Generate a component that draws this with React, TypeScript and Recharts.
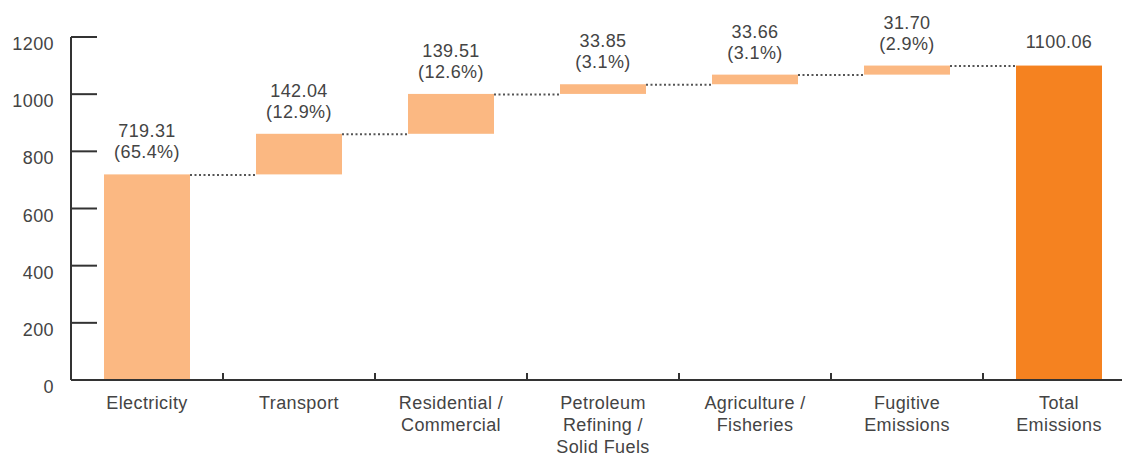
import React from "react";
import { BarChart, Bar, XAxis, YAxis, Cell } from "recharts";

const categories = [
  "Electricity",
  "Transport",
  "Residential / Commercial",
  "Petroleum Refining / Solid Fuels",
  "Agriculture / Fisheries",
  "Fugitive Emissions",
  "Total Emissions",
];
const tickLines = [
  ["Electricity"],
  ["Transport"],
  ["Residential /", "Commercial"],
  ["Petroleum", "Refining /", "Solid Fuels"],
  ["Agriculture /", "Fisheries"],
  ["Fugitive", "Emissions"],
  ["Total", "Emissions"],
];
const values = [719.31, 142.04, 139.51, 33.85, 33.66, 31.7, 1100.06];
const valueLabels = ["719.31", "142.04", "139.51", "33.85", "33.66", "31.70", "1100.06"];
const shareLabels = ["(65.4%)", "(12.9%)", "(12.6%)", "(3.1%)", "(3.1%)", "(2.9%)", ""];
const isTotal = [false, false, false, false, false, false, true];
const yTicks = [0, 200, 400, 600, 800, 1000, 1200];

const CHART_W = 1130;
const CHART_H = 447;
const YAXIS_W = 63;
const M = { top: 29, right: 3, left: 0, bottom: 45 };
const CAT_W = (CHART_W - YAXIS_W - M.left - M.right) / categories.length;

const LIGHT = "#FBB882";
const DARK = "#F58220";
const TEXT = "#444444";
const AXIS = "#333333";
const FONT = "'Liberation Sans', Arial, Helvetica, sans-serif";
const FS = 18;

let running = 0;
const data = categories.map((name, i) => {
  const base = isTotal[i] ? 0 : running;
  if (!isTotal[i]) running += values[i];
  return { name, base, delta: values[i], idx: i };
});

const BarShape = (props: any) => {
  const { x, y, width, height, index } = props;
  const i = index ?? props.payload?.idx ?? 0;
  const cx = x + width / 2;
  const hasShare = shareLabels[i] !== "";
  return (
    <g>
      <rect x={x} y={y} width={width} height={height} fill={isTotal[i] ? DARK : LIGHT} />
      {i < categories.length - 1 && (
        <line
          x1={x + width}
          x2={x + CAT_W}
          y1={y + 0.5}
          y2={y + 0.5}
          stroke="#555"
          strokeWidth={2}
          strokeDasharray="2 2.5"
        />
      )}
      <text
        x={cx}
        y={hasShare ? y - 37 : y - 18}
        textAnchor="middle"
        fill={TEXT}
        fontSize={FS}
        fontFamily={FONT}
        letterSpacing={0.4}
      >
        {valueLabels[i]}
      </text>
      {hasShare && (
        <text
          x={cx}
          y={y - 16}
          textAnchor="middle"
          fill={TEXT}
          fontSize={FS}
          fontFamily={FONT}
          letterSpacing={0.4}
        >
          {shareLabels[i]}
        </text>
      )}
    </g>
  );
};

const YTick = (props: any) => {
  const { x, y, payload } = props;
  return (
    <g>
      <line x1={x} x2={x + 26} y1={y} y2={y} stroke={AXIS} strokeWidth={2} />
      <text
        x={x - 17}
        y={y + 13}
        textAnchor="end"
        fill={TEXT}
        fontSize={FS}
        fontFamily={FONT}
        letterSpacing={0.4}
      >
        {payload.value}
      </text>
    </g>
  );
};

const XTick = (props: any) => {
  const { x, y, index } = props;
  const lines = tickLines[index] || [];
  return (
    <g>
      {index > 0 && (
        <line
          x1={x - CAT_W / 2}
          x2={x - CAT_W / 2}
          y1={y}
          y2={y - 7}
          stroke={AXIS}
          strokeWidth={2}
        />
      )}
      {lines.map((t: string, k: number) => (
        <text
          key={k}
          x={x}
          y={y + 29 + k * 22}
          textAnchor="middle"
          fill={TEXT}
          fontSize={FS}
          fontFamily={FONT}
          letterSpacing={0.4}
        >
          {t}
        </text>
      ))}
    </g>
  );
};

export default function App() {
  return (
    <div style={{ width: 1122, height: CHART_H, overflow: "hidden" }}>
      <BarChart width={CHART_W} height={CHART_H} data={data} margin={M} barSize={86}>
        <XAxis
          dataKey="name"
          interval={0}
          axisLine={{ stroke: AXIS, strokeWidth: 2 }}
          tickLine={false}
          tickSize={0}
          tickMargin={0}
          height={30}
          tick={<XTick />}
        />
        <YAxis
          domain={[0, 1200]}
          ticks={yTicks}
          width={YAXIS_W}
          axisLine={{ stroke: AXIS, strokeWidth: 2 }}
          tickLine={false}
          tickSize={0}
          tickMargin={0}
          tick={<YTick />}
          interval={0}
        />
        <Bar dataKey="base" stackId="a" fill="transparent" isAnimationActive={false} />
        <Bar dataKey="delta" stackId="a" shape={<BarShape />} isAnimationActive={false}>
          {data.map((d, i) => (
            <Cell key={i} fill={isTotal[i] ? DARK : LIGHT} />
          ))}
        </Bar>
      </BarChart>
    </div>
  );
}
